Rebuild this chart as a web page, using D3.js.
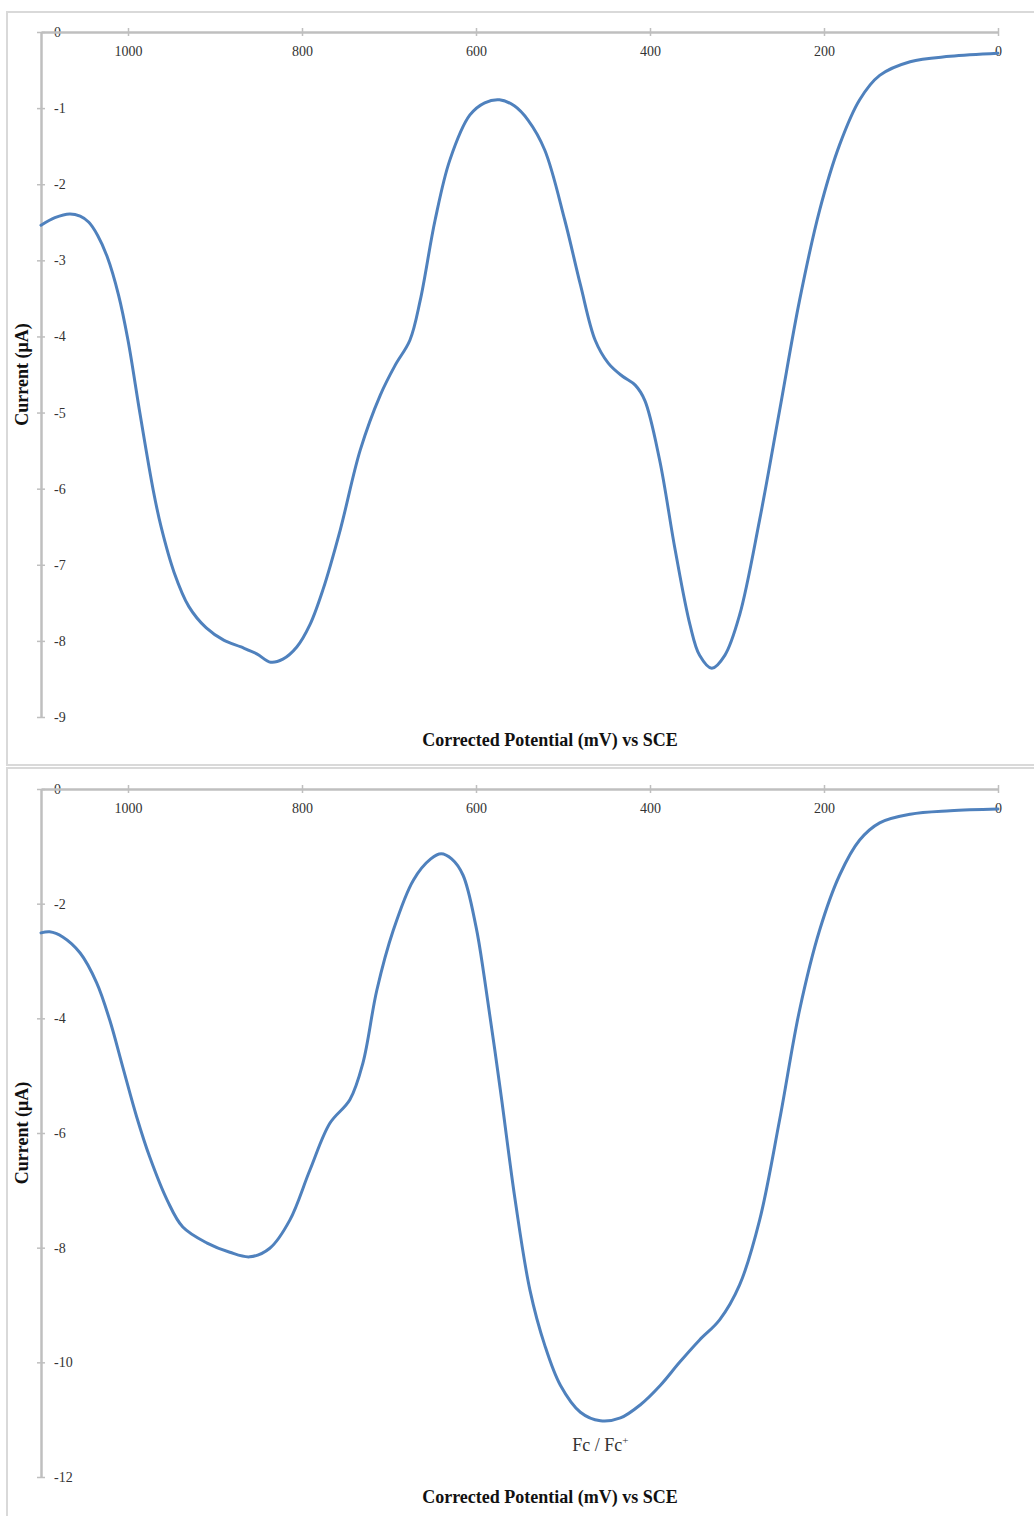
<!DOCTYPE html>
<html>
<head>
<meta charset="utf-8">
<script src="https://cdn.jsdelivr.net/npm/d3@7"></script>
<style>
html,body{margin:0;padding:0;background:#fff;}
svg{display:block;}
</style>
</head>
<body>
<svg id="chart" width="1034" height="1516"></svg>
<script>
// ---- Data ----
const xTicks = [1000, 800, 600, 400, 200, 0];
const yTicksTop = [0, -1, -2, -3, -4, -5, -6, -7, -8, -9];
const yTicksBottom = [0, -2, -4, -6, -8, -10, -12];

const potentialTop = [1100, 1084, 1067, 1055, 1045, 1035, 1024, 1011, 1000, 986, 971, 962, 947, 930, 910, 890, 870, 852, 836, 822, 806, 791, 776, 756, 733, 710, 693, 676, 664, 647, 630, 607, 590, 573, 556, 540, 521, 498, 480, 463, 448, 432, 417, 406, 389, 371, 354, 343, 329, 314, 297, 274, 251, 228, 205, 182, 159, 136, 101, 55, 0];
const currentTop = [-2.54, -2.44, -2.39, -2.42, -2.50, -2.67, -2.95, -3.45, -4.05, -5.03, -6.02, -6.50, -7.10, -7.55, -7.83, -7.99, -8.08, -8.17, -8.28, -8.24, -8.08, -7.79, -7.33, -6.54, -5.49, -4.77, -4.38, -4.05, -3.52, -2.47, -1.68, -1.09, -0.93, -0.89, -0.97, -1.16, -1.55, -2.47, -3.32, -4.05, -4.35, -4.52, -4.64, -4.84, -5.62, -6.81, -7.79, -8.19, -8.36, -8.19, -7.66, -6.41, -4.97, -3.52, -2.34, -1.48, -0.89, -0.57, -0.39, -0.32, -0.28];

const potentialBottom = [1100, 1090, 1075, 1055, 1036, 1021, 1006, 990, 975, 955, 937, 909, 883, 860, 837, 814, 791, 768, 745, 730, 714, 695, 672, 652, 640, 628, 615, 600, 590, 572, 555, 538, 521, 503, 480, 457, 434, 411, 388, 366, 343, 320, 297, 274, 251, 228, 205, 182, 159, 136, 101, 55, 0];
const currentBottom = [-2.51, -2.49, -2.58, -2.86, -3.38, -4.03, -4.85, -5.72, -6.42, -7.17, -7.64, -7.92, -8.08, -8.16, -8.01, -7.52, -6.65, -5.83, -5.42, -4.78, -3.51, -2.46, -1.59, -1.22, -1.13, -1.22, -1.50, -2.40, -3.33, -5.25, -7.17, -8.74, -9.7, -10.4, -10.87, -11.02, -10.97, -10.74, -10.4, -10.0, -9.61, -9.26, -8.65, -7.52, -5.77, -3.85, -2.46, -1.5, -0.89, -0.59, -0.44, -0.38, -0.35];

const xTitle = "Corrected Potential (mV) vs SCE";
const yTitle = "Current (\u03BCA)";

// ---- Drawing ----
const svg = d3.select("#chart");
const FONT = "'Liberation Serif', 'Times New Roman', serif";
const LINE_COLOR = "#4f81bd";
const AXIS_COLOR = "#bfbfbf";
const fmt = d => String(d);

function panel(opt) {
  const g = svg.append("g");
  g.append("rect")
    .attr("x", opt.frame[0]).attr("y", opt.frame[1])
    .attr("width", opt.frame[2]).attr("height", opt.frame[3])
    .attr("fill", "#fff").attr("stroke", "#d9d9d9").attr("stroke-width", 2);

  const x = d3.scaleLinear().domain([1100, 0]).range([41, 998]);
  const y = d3.scaleLinear().domain(opt.yDomain).range(opt.yRange);

  // y axis
  const ya = g.append("g").attr("transform", `translate(${x(1100)},0)`)
    .call(d3.axisLeft(y).tickValues(opt.yTicks).tickSize(0).tickFormat(fmt));
  ya.select(".domain").attr("stroke", AXIS_COLOR).attr("stroke-width", 2.5);
  ya.selectAll(".tick line").attr("x1", -4).attr("x2", 4).attr("stroke", AXIS_COLOR).attr("stroke-width", 1.5);
  ya.selectAll(".tick text").attr("x", 13).attr("dy", "0.32em").attr("text-anchor", "start")
    .attr("font-family", FONT).attr("font-size", 14).attr("fill", "#333");

  // x axis
  const xa = g.append("g").attr("transform", `translate(0,${y(0)})`)
    .call(d3.axisBottom(x).tickValues(xTicks).tickSize(0).tickFormat(fmt));
  xa.select(".domain").attr("stroke", AXIS_COLOR).attr("stroke-width", 2.5);
  xa.selectAll(".tick line").attr("y1", -4).attr("y2", 4).attr("stroke", AXIS_COLOR).attr("stroke-width", 1.5);
  xa.selectAll(".tick text").attr("y", 20).attr("dy", "0.32em")
    .attr("font-family", FONT).attr("font-size", 14).attr("fill", "#333");

  // curve
  const pts = opt.px.map((p, i) => [p, opt.cy[i]]);
  const line = d3.line().x(d => x(d[0])).y(d => y(d[1])).curve(d3.curveCatmullRom.alpha(0.5));
  g.append("path").datum(pts).attr("d", line)
    .attr("fill", "none").attr("stroke", LINE_COLOR).attr("stroke-width", 3)
    .attr("stroke-linejoin", "round").attr("stroke-linecap", "round");

  // titles
  g.append("text").attr("x", 550).attr("y", opt.xTitleY)
    .attr("text-anchor", "middle").attr("font-family", FONT).attr("font-weight", "bold")
    .attr("font-size", 18).attr("fill", "#111").text(xTitle);
  const cy = (opt.yRange[0] + opt.yRange[1]) / 2;
  g.append("text").attr("transform", `translate(28,${cy}) rotate(-90)`)
    .attr("text-anchor", "middle").attr("font-family", FONT).attr("font-weight", "bold")
    .attr("font-size", 18).attr("fill", "#111").text(yTitle);
  return {g, x, y};
}

panel({frame: [7, 12, 1040, 753], yDomain: [0, -9], yRange: [32, 717], yTicks: yTicksTop,
       px: potentialTop, cy: currentTop, xTitleY: 746});
const bot = panel({frame: [7, 768, 1040, 760], yDomain: [0, -12], yRange: [789, 1477], yTicks: yTicksBottom,
       px: potentialBottom, cy: currentBottom, xTitleY: 1503});

// annotation
const ann = bot.g.append("text").attr("x", bot.x(457)).attr("y", 1451)
  .attr("text-anchor", "middle").attr("font-family", FONT).attr("font-size", 18).attr("fill", "#333");
ann.append("tspan").text("Fc / Fc");
ann.append("tspan").attr("dy", -7).attr("font-size", 11).text("+");
</script>
</body>
</html>
